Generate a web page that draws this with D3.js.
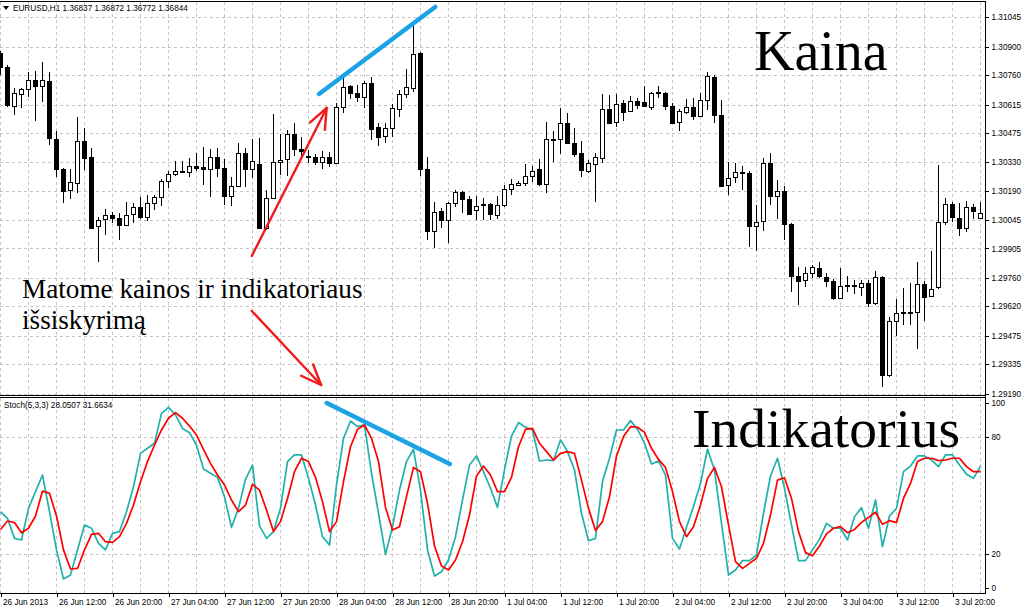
<!DOCTYPE html>
<html>
<head>
<meta charset="utf-8">
<script src="https://cdnjs.cloudflare.com/ajax/libs/d3/7.8.5/d3.min.js"></script>
<style>
  body { margin: 0; background: #fff; }
  svg { display: block; }
</style>
</head>
<body>
<script>
// EURUSD H1, 26 Jun 2013 - 3 Jul 2013, one entry per hourly bar
var open = [
  1.30869, 1.30799, 1.30607, 1.30666, 1.30692, 1.30736, 1.30706, 1.30731, 1.30445, 1.30297,
  1.30193, 1.30228, 1.30435, 1.30356, 1.30015, 1.30050, 1.30070, 1.30055, 1.30020, 1.30075,
  1.30110, 1.30060, 1.30129, 1.30159, 1.30238, 1.30272, 1.30282, 1.30282, 1.30312, 1.30307,
  1.30297, 1.30356, 1.30302, 1.30164, 1.30213, 1.30376, 1.30297, 1.30321, 1.30006, 1.30154,
  1.30331, 1.30346, 1.30469, 1.30396, 1.30361, 1.30356, 1.30331, 1.30356, 1.30326, 1.30602,
  1.30706, 1.30671, 1.30651, 1.30721, 1.30504, 1.30460, 1.30499, 1.30592, 1.30666, 1.30697,
  1.30869, 1.30297, 1.29991, 1.30090, 1.30045, 1.30129, 1.30183, 1.30149, 1.30095, 1.30124,
  1.30124, 1.30070, 1.30119, 1.30198, 1.30218, 1.30228, 1.30263, 1.30297, 1.30223, 1.30445,
  1.30445, 1.30524, 1.30425, 1.30376, 1.30287, 1.30321, 1.30351, 1.30592, 1.30529, 1.30622,
  1.30583, 1.30632, 1.30627, 1.30602, 1.30676, 1.30671, 1.30607, 1.30529, 1.30578, 1.30602,
  1.30558, 1.30637, 1.30750, 1.30563, 1.30218, 1.30258, 1.30282, 1.30277, 1.30015, 1.30040,
  1.30326, 1.30164, 1.30188, 1.30025, 1.29769, 1.29750, 1.29784, 1.29809, 1.29764, 1.29745,
  1.29661, 1.29725, 1.29725, 1.29715, 1.29735, 1.29636, 1.29764, 1.29281, 1.29547, 1.29592,
  1.29592, 1.29592, 1.29730, 1.29671, 1.29715, 1.30035, 1.30124, 1.30055, 1.30006, 1.30110,
  1.30055
];
var high = [
  1.30879, 1.30809, 1.30697, 1.30697, 1.30775, 1.30780, 1.30824, 1.30775, 1.30484, 1.30302,
  1.30297, 1.30553, 1.30499, 1.30401, 1.30060, 1.30100, 1.30085, 1.30080, 1.30134, 1.30129,
  1.30159, 1.30168, 1.30168, 1.30248, 1.30287, 1.30336, 1.30336, 1.30351, 1.30376, 1.30406,
  1.30396, 1.30401, 1.30346, 1.30258, 1.30425, 1.30401, 1.30445, 1.30450, 1.30193, 1.30568,
  1.30469, 1.30489, 1.30524, 1.30455, 1.30391, 1.30371, 1.30386, 1.30381, 1.30622, 1.30746,
  1.30711, 1.30711, 1.30731, 1.30750, 1.30524, 1.30524, 1.30617, 1.30686, 1.30790, 1.31007,
  1.30874, 1.30356, 1.30134, 1.30105, 1.30134, 1.30193, 1.30188, 1.30164, 1.30164, 1.30154,
  1.30129, 1.30164, 1.30218, 1.30248, 1.30238, 1.30321, 1.30312, 1.30346, 1.30529, 1.30484,
  1.30597, 1.30573, 1.30499, 1.30435, 1.30341, 1.30376, 1.30666, 1.30661, 1.30666, 1.30637,
  1.30656, 1.30647, 1.30706, 1.30676, 1.30706, 1.30676, 1.30622, 1.30592, 1.30642, 1.30647,
  1.30671, 1.30775, 1.30760, 1.30637, 1.30331, 1.30326, 1.30312, 1.30287, 1.30119, 1.30351,
  1.30376, 1.30243, 1.30213, 1.30030, 1.29814, 1.29814, 1.29824, 1.29838, 1.29784, 1.29755,
  1.29809, 1.29769, 1.29750, 1.29750, 1.29750, 1.29794, 1.29769, 1.29567, 1.29656, 1.29710,
  1.29735, 1.29838, 1.29745, 1.29893, 1.30317, 1.30154, 1.30134, 1.30129, 1.30139, 1.30124,
  1.30134
];
var low = [
  1.30760, 1.30602, 1.30563, 1.30597, 1.30651, 1.30533, 1.30627, 1.30415, 1.30258, 1.30129,
  1.30149, 1.30178, 1.30292, 1.30001, 1.29838, 1.29971, 1.30030, 1.29947, 1.30015, 1.30030,
  1.30050, 1.30040, 1.30095, 1.30114, 1.30203, 1.30263, 1.30277, 1.30258, 1.30287, 1.30218,
  1.30159, 1.30258, 1.30119, 1.30114, 1.30208, 1.30208, 1.30253, 1.30001, 1.29996, 1.30149,
  1.30268, 1.30263, 1.30361, 1.30356, 1.30326, 1.30317, 1.30297, 1.30307, 1.30321, 1.30573,
  1.30642, 1.30627, 1.30597, 1.30440, 1.30410, 1.30425, 1.30455, 1.30553, 1.30647, 1.30676,
  1.30263, 1.29947, 1.29907, 1.30006, 1.29932, 1.30110, 1.30080, 1.30070, 1.30045, 1.30045,
  1.30045, 1.30050, 1.30110, 1.30168, 1.30213, 1.30213, 1.30233, 1.30213, 1.30178, 1.30331,
  1.30371, 1.30420, 1.30356, 1.30258, 1.30277, 1.30134, 1.30326, 1.30519, 1.30504, 1.30533,
  1.30578, 1.30592, 1.30602, 1.30588, 1.30647, 1.30588, 1.30524, 1.30484, 1.30568, 1.30538,
  1.30553, 1.30588, 1.30524, 1.30208, 1.30168, 1.30228, 1.30193, 1.29912, 1.29892, 1.29991,
  1.30119, 1.30050, 1.29947, 1.29690, 1.29626, 1.29715, 1.29760, 1.29760, 1.29715, 1.29651,
  1.29656, 1.29690, 1.29680, 1.29671, 1.29617, 1.29626, 1.29222, 1.29272, 1.29474, 1.29528,
  1.29528, 1.29410, 1.29547, 1.29666, 1.29705, 1.30020, 1.30035, 1.29966, 1.29986, 1.30050,
  1.30055
];
var close = [
  1.30799, 1.30612, 1.30671, 1.30692, 1.30736, 1.30706, 1.30736, 1.30450, 1.30297, 1.30188,
  1.30233, 1.30435, 1.30351, 1.30006, 1.30045, 1.30070, 1.30055, 1.30020, 1.30070, 1.30110,
  1.30060, 1.30129, 1.30159, 1.30238, 1.30272, 1.30287, 1.30287, 1.30312, 1.30302, 1.30297,
  1.30356, 1.30302, 1.30164, 1.30213, 1.30376, 1.30297, 1.30336, 1.30006, 1.30154, 1.30331,
  1.30341, 1.30469, 1.30396, 1.30386, 1.30356, 1.30331, 1.30356, 1.30326, 1.30602, 1.30701,
  1.30671, 1.30651, 1.30721, 1.30494, 1.30455, 1.30499, 1.30597, 1.30666, 1.30701, 1.30864,
  1.30297, 1.29991, 1.30085, 1.30045, 1.30129, 1.30183, 1.30149, 1.30075, 1.30114, 1.30119,
  1.30075, 1.30119, 1.30198, 1.30223, 1.30228, 1.30263, 1.30287, 1.30223, 1.30445, 1.30440,
  1.30524, 1.30425, 1.30371, 1.30292, 1.30326, 1.30356, 1.30592, 1.30524, 1.30617, 1.30578,
  1.30632, 1.30612, 1.30607, 1.30671, 1.30671, 1.30607, 1.30524, 1.30583, 1.30602, 1.30558,
  1.30637, 1.30755, 1.30563, 1.30213, 1.30253, 1.30282, 1.30277, 1.30015, 1.30035, 1.30326,
  1.30164, 1.30188, 1.30025, 1.29769, 1.29745, 1.29784, 1.29814, 1.29769, 1.29745, 1.29661,
  1.29720, 1.29720, 1.29720, 1.29735, 1.29636, 1.29764, 1.29281, 1.29547, 1.29587, 1.29587,
  1.29587, 1.29730, 1.29666, 1.29705, 1.30035, 1.30124, 1.30060, 1.30006, 1.30110, 1.30090,
  1.30080
];

// Stochastic (5,3,3): main %K line and %D signal line
var stochMain = [
  41.7, 38.3, 28.0, 27.2, 43.4, 52.0, 60.5, 41.7, 22.1, 7.2,
  9.2, 22.1, 34.9, 33.2, 25.5, 22.1, 30.6, 31.5, 41.7, 54.5,
  71.6, 74.2, 76.8, 92.1, 95.2, 91.3, 84.4, 82.2, 75.9, 63.6,
  61.4, 59.3, 49.4, 33.7, 43.4, 58.3, 65.6, 34.4, 28.0, 31.5,
  43.4, 67.4, 70.8, 70.8, 58.8, 45.1, 28.9, 24.6, 55.4, 79.3,
  88.2, 85.3, 86.2, 61.4, 40.9, 19.8, 34.0, 52.8, 67.4, 73.7,
  52.8, 22.1, 8.7, 10.9, 16.9, 28.9, 47.7, 65.6, 70.3, 62.2,
  53.7, 43.9, 63.1, 80.5, 87.4, 85.0, 83.6, 67.7, 68.2, 67.9,
  78.5, 72.5, 63.1, 40.9, 26.8, 28.0, 57.1, 69.1, 83.6, 83.6,
  88.4, 83.9, 76.8, 66.2, 67.7, 60.5, 28.0, 22.6, 33.7, 44.3,
  56.2, 73.7, 63.1, 35.7, 9.2, 11.8, 16.6, 16.6, 19.5, 40.9,
  60.0, 69.1, 53.7, 34.9, 16.6, 16.6, 22.1, 27.5, 35.7, 33.2,
  33.2, 27.2, 39.1, 43.8, 33.2, 47.7, 23.8, 39.5, 43.4, 62.2,
  65.1, 70.3, 70.3, 68.2, 64.8, 70.8, 70.8, 65.6, 60.9, 58.8,
  65.1
];
var stochSignal = [
  32.6, 36.9, 36.1, 30.9, 33.2, 39.5, 52.3, 51.1, 39.5, 22.1,
  12.3, 12.6, 22.1, 30.1, 30.6, 26.3, 26.0, 28.9, 35.7, 45.1,
  57.1, 67.4, 75.9, 83.6, 89.6, 92.5, 89.6, 85.6, 81.0, 73.7,
  66.5, 60.5, 55.4, 47.7, 41.7, 45.1, 55.7, 52.8, 42.6, 31.5,
  36.6, 48.5, 62.2, 69.1, 67.4, 59.3, 46.8, 31.5, 36.6, 57.1,
  75.0, 83.9, 86.2, 79.3, 67.4, 43.9, 32.3, 34.0, 49.4, 64.4,
  62.2, 46.0, 24.1, 13.8, 11.8, 16.9, 26.3, 40.0, 60.0, 65.1,
  60.5, 52.0, 52.0, 59.3, 75.0, 83.9, 84.4, 76.8, 72.5, 68.2,
  71.6, 72.5, 71.6, 57.9, 43.4, 32.0, 36.6, 49.4, 70.3, 80.2,
  85.3, 85.0, 82.4, 74.2, 68.5, 64.4, 52.0, 36.6, 28.9, 34.0,
  45.1, 58.8, 64.4, 54.5, 34.9, 16.1, 12.6, 15.2, 17.8, 25.5,
  40.0, 57.9, 59.1, 48.5, 31.5, 20.7, 19.1, 24.1, 30.3, 33.2,
  34.0, 30.9, 32.6, 36.2, 38.8, 41.4, 35.2, 37.1, 36.1, 48.5,
  56.2, 67.4, 69.1, 69.1, 67.9, 68.2, 69.1, 69.1, 64.8, 62.2,
  62.2
];

// one time label every 8 bars
var timeLabels = [
  "26 Jun 2013", "26 Jun 12:00", "26 Jun 20:00", "27 Jun 04:00", "27 Jun 12:00",
  "27 Jun 20:00", "28 Jun 04:00", "28 Jun 12:00", "28 Jun 20:00", "1 Jul 04:00",
  "1 Jul 12:00", "1 Jul 20:00", "2 Jul 04:00", "2 Jul 12:00", "2 Jul 20:00",
  "3 Jul 04:00", "3 Jul 12:00", "3 Jul 20:00"
];
var priceTicks = [1.31045, 1.30900, 1.30760, 1.30615, 1.30475, 1.30330, 1.30190,
                  1.30045, 1.29905, 1.29760, 1.29620, 1.29475, 1.29335, 1.29190];
var stochTicks = [100, 80, 20, 0];
var stochLevels = [80, 20];

// hand drawn marks, in bar index / price (or stoch) units
var priceTrend = [[45.5, 1.30667], [62.1, 1.31096]];
var stochTrend = [[46.6, 97.4], [64.2, 66.2]];
var arrowUp = [[35.9, 1.29868], [46.6, 1.30598]];
var arrowDown = [[35.9, 1.29597], [45.8, 1.29232]];

var W = 1024, H = 614;
var axisX = 985.5;
var mainTop = 1.5, mainBottom = 395.5;
var subTop = 397.5, subBottom = 593.5;
var tickFont = "'Liberation Sans', Arial, sans-serif";
var serif = "'Liberation Serif', 'Times New Roman', serif";
var gridColor = "#c4c4c4";

var svg = d3.select("body").append("svg")
  .attr("width", W)
  .attr("height", H);

var x = d3.scaleLinear().domain([0, 140]).range([0.5, 980.5]);
var yPrice = d3.scaleLinear().domain([1.29191, 1.31045]).range([393.3, 17.3]);
var yStoch = d3.scaleLinear().domain([0, 100]).range([593, 398]);

var defs = svg.append("defs");
defs.append("clipPath").attr("id", "clipMain")
  .append("rect").attr("x", 0).attr("y", mainTop).attr("width", axisX).attr("height", mainBottom - mainTop);
defs.append("clipPath").attr("id", "clipSub")
  .append("rect").attr("x", 0).attr("y", subTop).attr("width", axisX).attr("height", subBottom - subTop);

// ---- grid ----
var gridIdx = d3.range(0, open.length, 4);
var grid = svg.append("g")
  .attr("stroke", gridColor)
  .attr("stroke-dasharray", "3,3")
  .attr("shape-rendering", "crispEdges");

grid.selectAll("line.vmain").data(gridIdx).join("line")
  .attr("class", "vmain")
  .attr("x1", d => x(d)).attr("x2", d => x(d))
  .attr("y1", mainTop).attr("y2", mainBottom);

grid.selectAll("line.vsub").data(gridIdx).join("line")
  .attr("class", "vsub")
  .attr("x1", d => x(d)).attr("x2", d => x(d))
  .attr("y1", subTop).attr("y2", subBottom);

grid.selectAll("line.hmain").data(priceTicks).join("line")
  .attr("class", "hmain")
  .attr("x1", 0).attr("x2", axisX)
  .attr("y1", d => Math.round(yPrice(d)) + 0.5)
  .attr("y2", d => Math.round(yPrice(d)) + 0.5);

grid.selectAll("line.hsub").data(stochLevels).join("line")
  .attr("class", "hsub")
  .attr("x1", 0).attr("x2", axisX)
  .attr("y1", d => Math.round(yStoch(d)) + 0.5)
  .attr("y2", d => Math.round(yStoch(d)) + 0.5);

// ---- candles ----
var idx = d3.range(open.length);
var candles = svg.append("g")
  .attr("clip-path", "url(#clipMain)")
  .attr("shape-rendering", "crispEdges");

candles.selectAll("line").data(idx).join("line")
  .attr("x1", i => x(i)).attr("x2", i => x(i))
  .attr("y1", i => Math.round(yPrice(high[i])))
  .attr("y2", i => Math.round(yPrice(low[i])))
  .attr("stroke", "#000");

function bodyTop(i) { return Math.round(yPrice(Math.max(open[i], close[i]))); }
function bodyBottom(i) { return Math.round(yPrice(Math.min(open[i], close[i]))); }

candles.selectAll("rect").data(idx).join("rect")
  .attr("x", i => x(i) - 2)
  .attr("y", i => bodyTop(i) + 0.5)
  .attr("width", 4)
  .attr("height", i => Math.max(1, bodyBottom(i) - bodyTop(i)))
  .attr("fill", i => close[i] < open[i] ? "#000" : "#fff")
  .attr("stroke", "#000");

// ---- stochastic ----
var sub = svg.append("g").attr("clip-path", "url(#clipSub)");
var stochLine = d3.line().x((d, i) => x(i)).y(d => yStoch(d));

sub.append("path")
  .attr("d", stochLine(stochMain))
  .attr("fill", "none")
  .attr("stroke", "#20b2aa")
  .attr("stroke-width", 1.7)
  .attr("stroke-linejoin", "round");

sub.append("path")
  .attr("d", stochLine(stochSignal))
  .attr("fill", "none")
  .attr("stroke", "#ff0000")
  .attr("stroke-width", 1.7)
  .attr("stroke-linejoin", "round");

// ---- frames ----
var frame = svg.append("g")
  .attr("stroke", "#000")
  .attr("fill", "none")
  .attr("shape-rendering", "crispEdges");
frame.append("line").attr("x1", 0).attr("x2", axisX).attr("y1", mainTop).attr("y2", mainTop);
frame.append("line").attr("x1", 0).attr("x2", axisX).attr("y1", mainBottom).attr("y2", mainBottom);
frame.append("line").attr("x1", 0).attr("x2", axisX).attr("y1", subTop).attr("y2", subTop);
frame.append("line").attr("x1", 0).attr("x2", axisX).attr("y1", subBottom).attr("y2", subBottom);
frame.append("line").attr("x1", axisX).attr("x2", axisX).attr("y1", mainTop).attr("y2", subBottom);

// ---- axes ----
function styleAxis(g) {
  g.attr("font-family", tickFont).attr("font-size", 8.2);
  g.select(".domain").remove();
  g.selectAll(".tick line").attr("stroke", "#000").attr("shape-rendering", "crispEdges");
  g.selectAll(".tick text").attr("fill", "#000");
}

var priceAxis = d3.axisRight(yPrice)
  .tickValues(priceTicks)
  .tickFormat(d3.format(".5f"))
  .tickSize(3);
svg.append("g")
  .attr("transform", "translate(" + axisX + ",0)")
  .call(priceAxis)
  .call(styleAxis);

var stochAxis = d3.axisRight(yStoch)
  .tickValues(stochTicks)
  .tickFormat(d3.format("d"))
  .tickSize(3);
svg.append("g")
  .attr("transform", "translate(" + axisX + ",0)")
  .call(stochAxis)
  .call(styleAxis)
  .call(g => g.selectAll(".tick").attr("transform", d =>
      "translate(0," + (yStoch(d) + (d === 100 ? 5 : d === 0 ? -5 : 0)) + ")"));

var timeAxis = d3.axisBottom(x)
  .tickValues(d3.range(0, open.length, 8))
  .tickFormat((d, i) => timeLabels[i])
  .tickSize(3);
svg.append("g")
  .attr("transform", "translate(0," + subBottom + ")")
  .call(timeAxis)
  .call(styleAxis)
  .call(g => g.selectAll(".tick text").attr("text-anchor", "start").attr("x", 2));

// ---- header labels ----
svg.append("path")
  .attr("d", "M3,6 L9,6 L6,10 Z")
  .attr("fill", "#000");
svg.append("text")
  .attr("x", 13).attr("y", 11)
  .attr("font-family", tickFont).attr("font-size", 8.2)
  .text("EURUSD,H1  1.36837 1.36872 1.36772 1.36844");
svg.append("text")
  .attr("x", 4).attr("y", 408)
  .attr("font-family", tickFont).attr("font-size", 8.2)
  .text("Stoch(5,3,3) 28.0507 31.6634");

// ---- annotations ----
function px(p) { return [x(p[0]), yPrice(p[1])]; }

var blue = "#1ba3e6";
svg.append("line")
  .attr("x1", px(priceTrend[0])[0]).attr("y1", px(priceTrend[0])[1])
  .attr("x2", px(priceTrend[1])[0]).attr("y2", px(priceTrend[1])[1])
  .attr("stroke", blue).attr("stroke-width", 4.5).attr("stroke-linecap", "round");

svg.append("line")
  .attr("x1", x(stochTrend[0][0])).attr("y1", yStoch(stochTrend[0][1]))
  .attr("x2", x(stochTrend[1][0])).attr("y2", yStoch(stochTrend[1][1]))
  .attr("stroke", blue).attr("stroke-width", 4.5).attr("stroke-linecap", "round");

function drawArrow(pts) {
  var a = px(pts[0]), b = px(pts[1]);
  var ang = Math.atan2(a[1] - b[1], a[0] - b[0]);
  var len = 22, spread = 22 * Math.PI / 180;
  var g = svg.append("g")
    .attr("stroke", "#f01a1a")
    .attr("stroke-width", 2.4)
    .attr("stroke-linecap", "round")
    .attr("fill", "none");
  g.append("line").attr("x1", a[0]).attr("y1", a[1]).attr("x2", b[0]).attr("y2", b[1]);
  [-spread, spread].forEach(function(s) {
    g.append("line")
      .attr("x1", b[0]).attr("y1", b[1])
      .attr("x2", b[0] + len * Math.cos(ang + s))
      .attr("y2", b[1] + len * Math.sin(ang + s));
  });
}
drawArrow(arrowUp);
drawArrow(arrowDown);

svg.append("text")
  .attr("x", 754).attr("y", 70)
  .attr("font-family", serif).attr("font-size", 56)
  .text("Kaina");

svg.append("text")
  .attr("x", 692).attr("y", 447)
  .attr("font-family", serif).attr("font-size", 55.5)
  .text("Indikatorius");

var note = svg.append("text")
  .attr("font-family", serif).attr("font-size", 27.2);
note.append("tspan").attr("x", 22).attr("y", 298).text("Matome kainos ir indikatoriaus");
note.append("tspan").attr("x", 22).attr("y", 329).text("išsiskyrimą");
</script>
</body>
</html>
